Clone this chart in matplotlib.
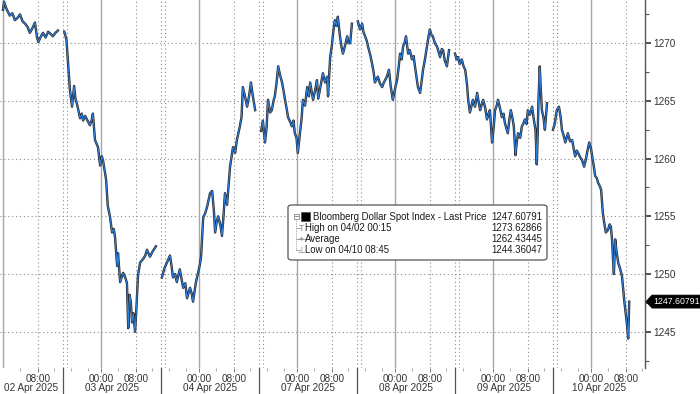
import numpy as np
import matplotlib
matplotlib.use("Agg")
import matplotlib.pyplot as plt
from matplotlib.patches import FancyBboxPatch, Rectangle, Polygon
from matplotlib.lines import Line2D

plt.rcParams["font.family"] = ["Liberation Sans", "DejaVu Sans"]

# trading hours since 02 Apr 00:00 (weekend + daily break removed), NaN = session gap
HOURS = [
    0.0, 0.25, 0.8, 1.6, 2.2, 2.8, 3.4, 4.0, 4.6, 5.2, 5.8, 6.3, 6.9, 7.5, 8.0, 8.3, 8.9, 9.4,
    10.0, 10.6, 11.2, 11.7, 12.3, 12.9, 13.4,
    14.4, 14.9, 15.3, 15.7, 16.2, 16.7, 17.0, 17.4, 18.1, 18.5, 18.8, 19.3, 19.7, 20.4, 20.8,
    21.1, 21.6, 22.3, 22.8, 23.2, 23.5, 24.2, 24.6, 25.1, 25.6, 26.0, 26.3, 26.8, 27.0, 27.5,
    28.2, 28.7, 29.1, 29.4, 29.7, 30.0, 30.3, 30.6, 31.0, 31.3, 31.7, 32.2, 32.9, 33.4, 33.8,
    34.5, 35.2, 35.9, 36.5,
    37.3, 37.9, 38.5, 39.2, 39.6, 39.9, 40.4, 40.8, 41.5, 41.9, 42.3, 42.8, 43.2, 43.9, 44.3,
    44.6, 45.3, 45.8, 46.2, 46.5, 47.0, 47.5, 47.9, 48.6, 49.1, 49.5, 49.8, 50.2, 50.5, 51.0,
    51.4, 51.8, 52.1, 52.6, 53.3, 54.0, 54.5, 54.9, 55.6, 56.0, 56.3, 56.8, 57.3, 57.8, 58.2,
    58.7, 59.2, 59.8,
    60.6, 61.0, 61.5, 61.9, 62.2, 62.7, 63.1, 63.5, 63.8, 64.2, 64.6, 65.0, 65.5, 65.9, 66.2,
    66.6, 66.9, 67.4, 67.8, 68.2, 68.5, 68.9, 69.2, 69.7, 70.1, 70.4, 70.9, 71.4, 71.8, 72.1,
    72.5, 72.8, 73.3, 73.7, 74.0, 74.4, 74.8, 75.1, 75.6, 76.1, 76.3, 76.8, 77.2, 77.5, 77.9,
    78.3, 78.6, 79.1, 79.5, 79.8, 80.3, 80.8, 81.1, 81.5, 81.9, 82.5,
    83.3, 83.8, 84.3, 84.6, 85.0, 85.4, 85.7, 86.2, 86.6, 87.0, 87.3, 87.7, 88.0, 88.5, 89.0,
    89.4, 89.7, 90.1, 90.6, 91.0, 91.5, 92.0, 92.5, 92.9, 93.2, 93.6, 93.9, 94.3, 94.6, 95.1,
    95.5, 96.0, 96.4, 96.7, 97.1, 97.4, 97.9, 98.2, 98.6, 99.0, 99.5, 99.9, 100.2, 100.6,
    100.9, 101.4, 101.9, 102.2, 102.6, 103.0, 103.3, 103.7, 104.2, 104.7, 105.3,
    106.1, 106.5, 106.8, 107.2, 107.7, 108.1, 108.5, 108.9, 109.2, 109.6, 110.0, 110.3, 110.8,
    111.3, 111.6, 112.0, 112.4, 112.7, 113.2, 113.6, 114.0, 114.3, 114.8, 115.2, 115.5, 115.9,
    116.2, 116.7, 117.1, 117.5, 117.8, 118.2, 118.5, 118.9, 119.2, 119.6, 119.9, 120.3, 120.6,
    120.9, 121.4, 121.8, 122.1, 122.5, 122.9, 123.2, 123.7, 124.2, 124.6, 125.0, 125.3, 125.5,
    125.7, 126.0, 126.2, 126.5, 126.9, 127.2, 127.7, 128.3,
    129.1, 129.5, 130.0, 130.5, 130.9, 131.2, 131.6, 132.0, 132.3, 132.6, 133.1, 133.6, 134.0,
    134.3, 134.7, 135.0, 135.5, 135.9, 136.4, 136.8, 137.1, 137.6, 138.0, 138.3, 138.7, 139.0,
    139.4, 139.7, 140.1, 140.4, 140.8, 141.1, 141.5, 142.0, 142.4, 142.7, 143.0, 143.2, 143.4,
    143.7, 144.0, 144.4, 144.9, 145.3, 145.8, 146.2, 146.5, 146.75, 147.0,
]
NAN = float("nan")
PRICE = [
    1272.9, 1273.6, 1273.0, 1272.4, 1272.6, 1272.0, 1272.2, 1272.5, 1271.9, 1271.7, 1271.4,
    1270.9, 1271.3, 1271.8, 1270.5, 1270.1, 1270.6, 1270.9, 1270.5, 1271.0, 1270.8, 1270.6,
    1270.9, 1271.1, NAN,
    1271.0, 1270.3, 1268.2, 1266.0, 1264.5, 1266.3, 1265.2, 1264.7, 1263.5, 1263.9, 1263.3,
    1263.7, 1263.4, 1262.9, 1263.3, 1263.9, 1261.6, 1261.0, 1259.4, 1260.2, 1259.8, 1258.2,
    1255.9, 1255.0, 1253.6, 1253.9, 1253.2, 1250.7, 1251.8, 1249.3, 1250.1, 1249.7, 1249.2,
    1245.3, 1248.2, 1247.6, 1245.8, 1246.6, 1245.0, 1246.9, 1249.9, 1251.0, 1251.3, 1251.6,
    1252.1, 1251.5, 1252.0, 1252.4, NAN,
    1249.7, 1250.5, 1251.0, 1251.6, 1250.6, 1249.7, 1250.0, 1249.3, 1250.4, 1249.6, 1248.8,
    1249.2, 1247.9, 1248.8, 1248.3, 1247.6, 1249.3, 1250.1, 1250.8, 1251.5, 1254.9, 1255.3,
    1255.8, 1257.0, 1257.2, 1255.5, 1253.6, 1254.6, 1255.0, 1254.3, 1253.3, 1255.2, 1257.0,
    1256.0, 1259.3, 1261.0, 1260.5, 1261.6, 1262.8, 1263.6, 1266.2, 1265.4, 1264.5, 1265.5,
    1266.6, 1265.3, 1264.2, NAN,
    1262.4, 1263.3, 1261.4, 1262.8, 1265.1, 1264.0, 1264.2, 1265.0, 1265.4, 1266.5, 1268.0,
    1267.3, 1266.6, 1265.8, 1265.1, 1264.3, 1263.6, 1263.2, 1262.8, 1263.3, 1262.2, 1261.8,
    1260.5, 1262.2, 1263.5, 1265.1, 1264.6, 1266.2, 1265.4, 1266.6, 1265.7, 1265.1, 1266.0,
    1266.8, 1265.2, 1266.0, 1266.8, 1267.4, 1266.6, 1267.1, 1265.4, 1268.8, 1269.8, 1270.9,
    1272.0, 1271.5, 1272.3, 1270.6, 1269.6, 1269.1, 1269.8, 1270.6, 1270.0, 1270.0, 1271.7, NAN,
    1271.9, 1271.2, 1271.7, 1271.0, 1270.6, 1270.2, 1269.7, 1269.0, 1268.3, 1267.5, 1266.6,
    1266.9, 1267.1, 1266.5, 1266.2, 1266.6, 1266.8, 1267.1, 1267.7, 1266.3, 1265.1, 1266.0,
    1266.8, 1268.0, 1269.1, 1268.6, 1269.7, 1270.1, 1270.6, 1269.1, 1269.4, 1268.6, 1268.9,
    1268.0, 1267.0, 1266.2, 1265.7, 1266.5, 1267.7, 1268.5, 1269.7, 1270.6, 1271.2, 1270.7,
    1270.6, 1270.0, 1269.7, 1269.3, 1268.8, 1269.5, 1269.4, 1268.5, 1268.0, 1269.4, NAN,
    1269.1, 1268.6, 1268.8, 1268.2, 1268.6, 1268.0, 1267.7, 1266.5, 1265.1, 1264.0, 1264.6,
    1265.1, 1264.5, 1265.7, 1265.0, 1264.2, 1264.7, 1265.1, 1264.4, 1263.4, 1263.9, 1264.2,
    1261.4, 1262.8, 1264.2, 1264.6, 1265.1, 1264.3, 1263.6, 1263.9, 1263.1, 1262.6, 1262.2,
    1263.5, 1264.2, 1263.5, 1262.8, 1260.3, 1261.4, 1262.2, 1261.8, 1262.8, 1263.0, 1263.4,
    1263.0, 1264.2, 1263.8, 1264.5, 1263.4, 1262.5, 1259.5, 1262.0, 1265.1, 1268.0, 1266.3,
    1264.2, 1263.5, 1262.5, 1264.8, NAN,
    1262.5, 1263.0, 1264.2, 1264.5, 1263.6, 1262.5, 1262.0, 1261.4, 1261.8, 1262.2, 1261.5,
    1261.6, 1260.8, 1260.2, 1260.7, 1260.5, 1260.1, 1259.9, 1259.3, 1259.9, 1260.5, 1261.4,
    1260.9, 1260.2, 1259.3, 1258.5, 1258.3, 1257.9, 1257.6, 1257.3, 1255.3, 1254.5, 1253.6,
    1253.8, 1254.3, 1254.1, 1252.8, 1251.2, 1250.0, 1253.0, 1252.0, 1251.0, 1250.4, 1249.8,
    1247.8, 1246.5, 1245.5, 1244.4, 1247.6,
]

DAY_LABELS = ["02 Apr 2025", "03 Apr 2025", "04 Apr 2025", "07 Apr 2025",
              "08 Apr 2025", "09 Apr 2025", "10 Apr 2025"]
MIDNIGHTS = [0, 23, 46, 69, 92, 115, 138]       # 00:00 of each trading day
EIGHTS = [8.2, 31.2, 54.2, 77.2, 100.2, 123.2, 146.2]  # 08:00
SEPS = [14.1, 37.1, 60.1, 83.1, 106.1, 129.1]   # day separators (session break)
XMIN, XMAX = -0.7, 150.7
YMIN, YMAX = 1241.85, 1273.75

LEGEND_ROWS = [
    ("Bloomberg Dollar Spot Index - Last Price", "1247.60791"),
    ("High on 04/02 00:15", "1273.62866"),
    ("Average", "1262.43445"),
    ("Low on 04/10 08:45", "1244.36047"),
]
LAST = 1247.60791

FS = 7.2
LFS = 6.9
W, H = 700, 394
fig = plt.figure(figsize=(W / 100, H / 100), dpi=100)
ax = fig.add_axes([0, 1 - 368 / H, 645 / W, 368 / H])
ax.set_xlim(XMIN, XMAX)
ax.set_ylim(YMIN, YMAX)

dot = (0, (1, 2.5))
for y in range(1245, 1271, 5):
    ax.axhline(y, color="#8c8c8c", lw=0.8, ls=dot, zorder=1)
for h in MIDNIGHTS:
    ax.axvline(h, color="#a6a6a6", lw=1.0, zorder=1)
for h in EIGHTS:
    ax.axvline(h, color="#8c8c8c", lw=0.8, ls=dot, zorder=1)
for h in SEPS:
    ax.axvline(h, color="#8c8c8c", lw=0.8, ls=dot, zorder=1)
    ax.axvline(h + 1.0, color="#8c8c8c", lw=0.8, ls=dot, zorder=1)

hrs = np.array(HOURS)
px = np.array(PRICE)
ax.plot(hrs, px, color="#222222", lw=1.7, zorder=3)
ax.plot(hrs, px, color="#2f7fdc", lw=0.8, zorder=4)

for s in ["top", "left", "bottom"]:
    ax.spines[s].set_visible(False)
ax.spines["right"].set_color("#555555")
ax.spines["right"].set_linewidth(1.0)

ax.yaxis.tick_right()
ax.set_yticks(range(1245, 1271, 5))
ax.set_yticks(np.arange(1242.5, 1273.5, 5), minor=True)
ax.tick_params(axis="y", which="major", length=4, width=1.2, color="#333333",
               labelsize=FS, labelcolor="#333333", pad=2)
ax.tick_params(axis="y", which="minor", length=3, width=0.8, color="#555555")

xt = [h for h in MIDNIGHTS[1:]] + EIGHTS
xl = ["00:00"] * (len(MIDNIGHTS) - 1) + ["08:00"] * len(EIGHTS)
ax.set_xticks(xt)
ax.set_xticklabels(xl)
ax.set_xticks([h + d for h in MIDNIGHTS for d in (4, 12, 16, 20)
               if XMIN < h + d < XMAX], minor=True)
ax.tick_params(axis="x", which="major", length=3, width=0.6, color="#666666",
               labelsize=FS, labelcolor="#333333", pad=1.2)
ax.tick_params(axis="x", which="minor", length=2, width=0.5, color="#888888")

xtr = ax.get_xaxis_transform()
bounds = [XMIN] + SEPS + [XMAX]
for i, lab in enumerate(DAY_LABELS):
    c = (bounds[i] + bounds[i + 1]) / 2
    ax.annotate(lab, xy=(c, 0), xycoords=xtr, xytext=(0, -14.6),
                textcoords="offset points", ha="center", va="center",
                fontsize=FS, color="#333333", annotation_clip=False)
for h in SEPS:
    ax.plot([h, h], [0, -0.1], transform=xtr, color="#555555", lw=0.9, clip_on=False)


def P(x, y):
    return (x / W, 1 - y / H)


# last price tag: arrow-shaped black label on the right axis
ty = H - ax.transData.transform((0, LAST))[1]
tag = Polygon([P(646, ty), P(652, ty - 6.5), P(700, ty - 6.5), P(700, ty + 6.5),
               P(652, ty + 6.5)], closed=True, transform=fig.transFigure,
              fc="black", ec="black", lw=0.5, zorder=5)
fig.add_artist(tag)
fig.text(*P(653.5, ty), f"{LAST:.5f}", ha="left", va="center", fontsize=6.3,
         color="white", zorder=6)

# legend box (pixel coords)
box = FancyBboxPatch(P(288, 260), 259 / W, 55 / H,
                     boxstyle="round,pad=0,rounding_size=0.006",
                     transform=fig.transFigure, fc="white", ec="#555555", lw=0.9, zorder=5)
fig.add_artist(box)
rows_y = [216.7, 228.3, 239.3, 250.3]
for i, (lab, val) in enumerate(LEGEND_ROWS):
    x0 = 313 if i == 0 else 305
    fig.text(*P(x0, rows_y[i]), lab, ha="left", va="center", fontsize=LFS,
             color="#1a1a1a", zorder=6)
    fig.text(*P(542, rows_y[i]), val, ha="right", va="center", fontsize=LFS,
             color="#1a1a1a", zorder=6)
# tree icons
fig.add_artist(Rectangle(P(294, 218.5), 4.5 / W, 4.5 / H, transform=fig.transFigure,
                         fc="white", ec="#888888", lw=0.6, zorder=6))
fig.add_artist(Line2D([295 / W, 297.5 / W], [1 - 216.3 / H] * 2, transform=fig.transFigure,
                      color="#777777", lw=0.6, zorder=7))
fig.add_artist(Rectangle(P(301, 221), 9 / W, 9 / H, transform=fig.transFigure,
                         fc="black", ec="#555555", lw=0.6, zorder=6))
fig.add_artist(Line2D([296.3 / W] * 2, [1 - 219 / H, 1 - 250.3 / H], transform=fig.transFigure,
                      color="#999999", lw=0.6, ls=(0, (1, 1)), zorder=6))
for y in rows_y[1:]:
    fig.add_artist(Line2D([296.3 / W, 299.5 / W], [1 - y / H] * 2, transform=fig.transFigure,
                          color="#999999", lw=0.6, zorder=6))
fig.text(*P(301.5, rows_y[1]), "T", ha="center", va="center", fontsize=6.5,
         color="#888888", zorder=6)
fig.text(*P(301.5, rows_y[2]), "+", ha="center", va="center", fontsize=6.5,
         color="#888888", zorder=6)
fig.add_artist(Line2D([298 / W, 305 / W], [1 - rows_y[2] / H] * 2, transform=fig.transFigure,
                      color="#999999", lw=0.6, zorder=6))
fig.text(*P(301.5, rows_y[3]), "\u22a5", ha="center", va="center", fontsize=6.5,
         color="#888888", zorder=6, family=["DejaVu Sans"])

fig.savefig("out.png", dpi=100, facecolor="white")
